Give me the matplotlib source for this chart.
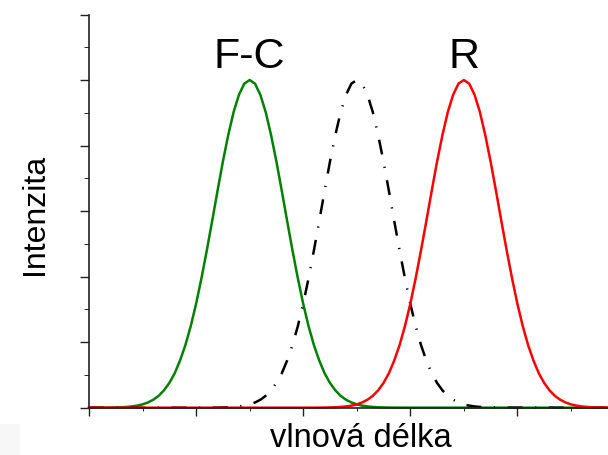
import numpy as np
import matplotlib
matplotlib.use("Agg")
import matplotlib.pyplot as plt
from matplotlib.patches import Rectangle

plt.rcParams['font.family'] = ['Liberation Sans', 'DejaVu Sans']

# wavelength grid (arbitrary units), sampled every 5
wavelength = np.arange(0, 490, 5)

# F-C band (green), peak at 150
intensity_fc = [
    0.0, 0.0001, 0.0001, 0.0002, 0.0004, 0.0008, 0.0013, 0.0023, 0.0039, 0.0063,
    0.0101, 0.0159, 0.0243, 0.0362, 0.053, 0.0756, 0.105, 0.144, 0.191, 0.249,
    0.317, 0.395, 0.480, 0.570, 0.662, 0.751, 0.832, 0.902, 0.955, 0.989,
    1.000, 0.989, 0.955, 0.902, 0.832, 0.751, 0.662, 0.570, 0.480, 0.395,
    0.317, 0.249, 0.191, 0.144, 0.105, 0.0756, 0.053, 0.0362, 0.0243, 0.0159,
    0.0101, 0.0063, 0.0039, 0.0023, 0.0013, 0.0008, 0.0004, 0.0002, 0.0001, 0.0001,
    0.0, 0.0, 0.0, 0.0, 0.0, 0.0, 0.0, 0.0, 0.0, 0.0,
    0.0, 0.0, 0.0, 0.0, 0.0, 0.0, 0.0, 0.0, 0.0, 0.0,
    0.0, 0.0, 0.0, 0.0, 0.0, 0.0, 0.0, 0.0, 0.0, 0.0,
    0.0, 0.0, 0.0, 0.0, 0.0, 0.0, 0.0, 0.0,
]

# middle band (black dashed), peak at 250
intensity_mid = [
    0.0, 0.0, 0.0, 0.0, 0.0, 0.0, 0.0, 0.0, 0.0, 0.0,
    0.0, 0.0, 0.0, 0.0, 0.0, 0.0, 0.0, 0.0, 0.0, 0.0,
    0.0, 0.0001, 0.0001, 0.0002, 0.0004, 0.0008, 0.0013, 0.0023, 0.0039, 0.0063,
    0.0101, 0.0159, 0.0243, 0.0362, 0.053, 0.0756, 0.105, 0.144, 0.191, 0.249,
    0.317, 0.395, 0.480, 0.570, 0.662, 0.751, 0.832, 0.902, 0.955, 0.989,
    1.000, 0.989, 0.955, 0.902, 0.832, 0.751, 0.662, 0.570, 0.480, 0.395,
    0.317, 0.249, 0.191, 0.144, 0.105, 0.0756, 0.053, 0.0362, 0.0243, 0.0159,
    0.0101, 0.0063, 0.0039, 0.0023, 0.0013, 0.0008, 0.0004, 0.0002, 0.0001, 0.0001,
    0.0, 0.0, 0.0, 0.0, 0.0, 0.0, 0.0, 0.0, 0.0, 0.0,
    0.0, 0.0, 0.0, 0.0, 0.0, 0.0, 0.0, 0.0,
]

# R band (red), peak at 350
intensity_r = [
    0.0, 0.0, 0.0, 0.0, 0.0, 0.0, 0.0, 0.0, 0.0, 0.0,
    0.0, 0.0, 0.0, 0.0, 0.0, 0.0, 0.0, 0.0, 0.0, 0.0,
    0.0, 0.0, 0.0, 0.0, 0.0, 0.0, 0.0, 0.0, 0.0, 0.0,
    0.0, 0.0, 0.0, 0.0, 0.0, 0.0, 0.0, 0.0, 0.0, 0.0,
    0.0, 0.0001, 0.0001, 0.0002, 0.0004, 0.0008, 0.0013, 0.0023, 0.0039, 0.0063,
    0.0101, 0.0159, 0.0243, 0.0362, 0.053, 0.0756, 0.105, 0.144, 0.191, 0.249,
    0.317, 0.395, 0.480, 0.570, 0.662, 0.751, 0.832, 0.902, 0.955, 0.989,
    1.000, 0.989, 0.955, 0.902, 0.832, 0.751, 0.662, 0.570, 0.480, 0.395,
    0.317, 0.249, 0.191, 0.144, 0.105, 0.0756, 0.053, 0.0362, 0.0243, 0.0159,
    0.0101, 0.0063, 0.0039, 0.0023, 0.0013, 0.0008, 0.0004, 0.0002,
]

band_labels = ['F-C', 'R']
band_peaks = [150, 350]

fig = plt.figure(figsize=(6.08, 4.55), dpi=100)
ax = fig.add_axes([89 / 608, (455 - 407.7) / 455, 1 - 89 / 608, (407.7 - 14.5) / 455])

ax.plot(wavelength, intensity_fc, color='#008000', lw=1.8, clip_on=False)
ax.plot(wavelength, intensity_mid, color='black', lw=1.8,
        ls=(0, (6, 5, 0.5, 5)), clip_on=False)
ax.plot(wavelength, intensity_r, color='#ff0000', lw=1.8, clip_on=False)

ax.set_xlim(0, 484.6)
ax.set_ylim(0, 1.2)

ax.set_xticks([0, 100, 200, 300, 400])
ax.set_xticks([50, 150, 250, 350, 450], minor=True)
ax.set_yticks([0, 0.2, 0.4, 0.6, 0.8, 1.0, 1.2])
ax.set_yticks([0.1, 0.3, 0.5, 0.7, 0.9, 1.1], minor=True)
ax.tick_params(labelbottom=False, labelleft=False, direction='out', color='#222222', width=1.0)
ax.tick_params(axis='y', which='major', length=6.5)
ax.tick_params(axis='y', which='minor', length=3.4)
ax.tick_params(axis='x', which='major', length=5.5)
ax.tick_params(axis='x', which='minor', length=2.5)

for s in ['top', 'right']:
    ax.spines[s].set_visible(False)
for s in ['left', 'bottom']:
    ax.spines[s].set_linewidth(1.2)
    ax.spines[s].set_color('#222222')

for lab, pk in zip(band_labels, band_peaks):
    ax.text(pk, 1.037, lab, ha='center', va='baseline', fontsize=31)

fig.text(35 / 608, 1 - 214 / 455, 'Intenzita', rotation=90, ha='center', va='center', fontsize=23)
fig.text(361 / 608, 1 / 455, 'vlnová délka', ha='center', va='bottom', fontsize=23.5)

# faint grey block in the bottom-left corner
fig.patches.append(Rectangle((0, 0), 20 / 608, 31 / 455, transform=fig.transFigure,
                             facecolor='#f7f7f7', edgecolor='none', zorder=0))

fig.savefig('out.png', dpi=100)
